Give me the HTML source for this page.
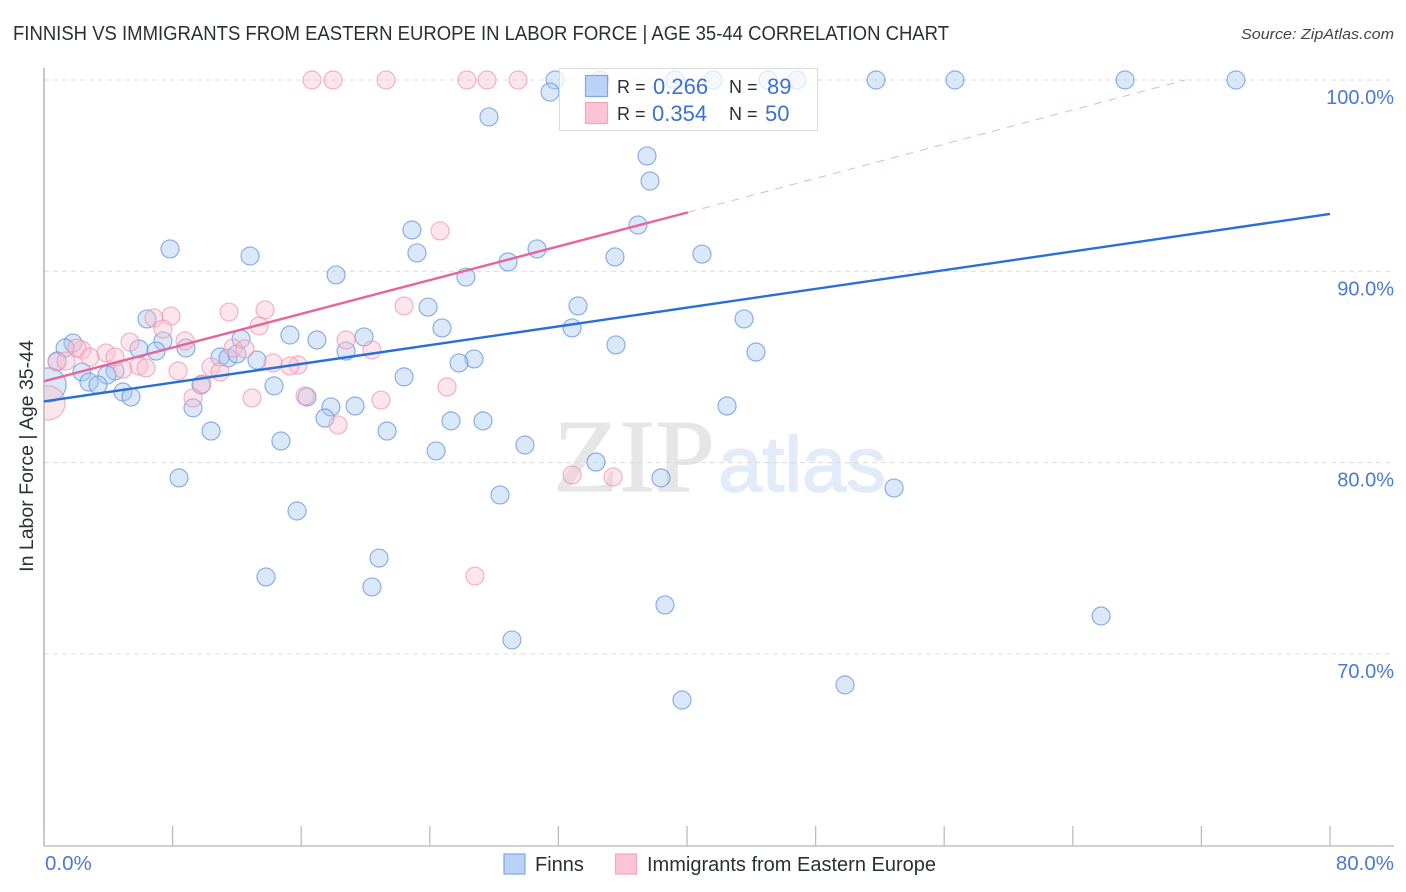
<!DOCTYPE html>
<html lang="en">
<head>
<meta charset="utf-8">
<title>Finnish vs Immigrants from Eastern Europe correlation chart</title>
<style>
html,body{margin:0;padding:0;background:#fff;}
svg{display:block;font-family:"Liberation Sans",sans-serif;}
</style>
</head>
<body>
<svg id="chart" width="1406" height="892" viewBox="0 0 1406 892" xmlns="http://www.w3.org/2000/svg">
  <defs>
    <clipPath id="plot-clip"><rect x="45" y="60" width="1350" height="786"/></clipPath>
  </defs>
  <rect x="0" y="0" width="1406" height="892" fill="#ffffff"/>
  <text x="13" y="40" font-size="20" fill="#2b2f36" textLength="936" lengthAdjust="spacingAndGlyphs">FINNISH VS IMMIGRANTS FROM EASTERN EUROPE IN LABOR FORCE | AGE 35-44 CORRELATION CHART</text>
  <text x="1241" y="39" font-size="15" font-style="italic" fill="#444" textLength="153" lengthAdjust="spacingAndGlyphs">Source: ZipAtlas.com</text>
  <g>
    <text x="553" y="491" font-family="'Liberation Serif',serif" font-size="104" fill="#e6e6e6" stroke="#e6e6e6" stroke-width="1" textLength="162" lengthAdjust="spacingAndGlyphs">ZIP</text>
    <text x="718" y="491" font-size="78" fill="#e2ebf8" stroke="#e2ebf8" stroke-width="1.5" textLength="168" lengthAdjust="spacingAndGlyphs">atlas</text>
  </g>
  <g id="grid"></g>
  <g id="axes"></g>
  <g clip-path="url(#plot-clip)">
    <g id="finns-points"></g>
    <g id="immigrant-points"></g>
  </g>
  <g id="trends"></g>
  <text transform="translate(33,456) rotate(-90)" font-size="19.5" fill="#2b2f36" text-anchor="middle">In Labor Force | Age 35-44</text>

  <g>
    <rect x="559.5" y="68.5" width="258" height="62" fill="#ffffff" fill-opacity="0.72" stroke="#dcdcdc" stroke-width="1"/>
    <rect x="585.5" y="75.5" width="22" height="21" fill="#aecbf5" fill-opacity="0.85" stroke="#7ea8e4" stroke-width="1.2"/>
    <rect x="585.5" y="102.5" width="22" height="21" fill="#fbc3d4" stroke="#f3a6bd" stroke-width="1.2"/>
    <text x="617" y="93" font-size="18" fill="#2b2f36">R =</text>
    <text x="653" y="94" font-size="22" fill="#3b72d0">0.266</text>
    <text x="729" y="93" font-size="18" fill="#2b2f36">N =</text>
    <text x="767" y="94" font-size="22" fill="#3b72d0">89</text>
    <text x="617" y="120" font-size="18" fill="#2b2f36">R =</text>
    <text x="652" y="121" font-size="22" fill="#3b72d0">0.354</text>
    <text x="729" y="120" font-size="18" fill="#2b2f36">N =</text>
    <text x="765" y="121" font-size="22" fill="#3b72d0">50</text>
  </g>

  <g>
    <rect x="504" y="854" width="21" height="20" fill="#b7d3fa" stroke="#7ea8e4" stroke-width="1.2"/>
    <text x="535" y="871" font-size="20" fill="#2b2f36">Finns</text>
    <rect x="615.5" y="854" width="21" height="20" fill="#fcc5d6" stroke="#f3a6bd" stroke-width="1.2"/>
    <text x="647" y="871" font-size="20" fill="#2b2f36" textLength="289" lengthAdjust="spacingAndGlyphs">Immigrants from Eastern Europe</text>
  </g>
</svg>
<script>
const yTickValues = [100, 90, 80, 70];
const yTickLabels = ["100.0%", "90.0%", "80.0%", "70.0%"];
const xTickValues = [0, 8, 16, 24, 32, 40, 48, 56, 64, 72, 80];
const xEndValues = [0, 80];
const xEndLabels = ["0.0%", "80.0%"];

const finnsX = [0.31,31.79,31.48,34.59,39.25,41.62,45.04,46.84,51.76,56.67,67.25,74.15,27.68,37.51,37.70,36.95,22.89,30.67,7.84,12.82,23.20,35.52,40.93,28.87,18.17,26.25,23.89,33.22,6.41,43.55,24.76,32.85,15.30,16.98,19.91,1.80,7.40,12.26,1.31,8.83,5.91,35.58,6.97,18.79,44.29,0.81,10.95,11.45,12.01,13.25,26.75,25.82,2.36,4.42,3.92,22.40,2.80,3.36,14.31,9.77,4.91,5.41,16.36,9.27,17.85,19.35,42.49,17.48,25.32,27.31,10.39,21.34,14.74,29.92,24.39,34.34,38.38,8.40,52.88,28.37,15.74,20.84,13.81,20.40,38.63,65.76,29.11,49.83,39.69];
const finnsY = [84.06,100,99.37,100,100,100,100,100,100,100,100,100,98.07,96.03,94.72,92.42,92.16,91.17,91.17,90.80,90.96,90.75,90.90,90.49,89.81,89.70,88.13,88.19,87.51,87.51,87.04,87.04,86.67,86.41,86.57,86.25,86.36,86.46,85.99,85.99,85.94,86.15,85.83,85.83,85.78,85.31,85.52,85.47,85.68,85.36,85.42,85.21,84.74,84.79,84.58,84.48,84.21,84.06,84.01,84.06,83.69,83.43,83.43,82.86,82.91,82.96,82.96,82.33,82.18,82.18,81.65,81.65,81.13,80.92,80.61,80.03,79.20,79.20,78.67,78.31,77.47,75.01,74.02,73.50,72.56,71.98,70.73,68.38,67.59];
const finnsWeights = [3.6];

const immigrantsX = [0.25,16.67,17.98,21.28,26.31,27.56,29.49,34.59,24.64,11.51,13.75,7.90,6.84,22.40,13.38,7.40,5.35,8.77,18.79,20.40,2.36,2.05,2.86,3.86,4.42,11.76,12.50,0.81,1.37,14.25,15.80,15.30,10.39,10.95,4.91,5.91,6.35,8.34,9.83,25.07,9.27,12.94,16.24,20.96,18.29,32.85,35.40,26.81];
const immigrantsY = [83.12,100,100,100,100,100,100,100,92.11,87.87,87.98,87.66,87.56,88.19,87.14,86.98,86.30,86.36,86.41,85.89,85.89,85.99,85.52,85.73,85.52,85.99,85.94,85.26,85.31,85.21,85.10,85.05,85.00,84.74,84.89,85.05,84.95,84.79,84.11,83.95,83.38,83.38,83.48,83.27,81.97,79.35,79.25,74.07];
const immigrantsWeights = [3.6];

const finnsTrendX = [0, 80];
const finnsTrendY = [83.2, 93.0];
const immigrantsTrendX = [0, 40.06];
const immigrantsTrendY = [84.25, 93.08];
const immigrantsExtendX = [40.06, 71.0];
const immigrantsExtendY = [93.08, 100];

const SVG_NS = "http://www.w3.org/2000/svg";
const xPx = v => 44 + v * 16.075;
const yPx = v => 80 + (100 - v) * 19.13;
const radius = w => 9 * Math.sqrt(w);

function make(tag, attrs, parent) {
  const el = document.createElementNS(SVG_NS, tag);
  for (const k in attrs) el.setAttribute(k, attrs[k]);
  parent.appendChild(el);
  return el;
}

const grid = document.getElementById("grid");
const axes = document.getElementById("axes");

yTickValues.forEach((v, i) => {
  const line = make("line", {x1: 44, x2: 1394, y1: yPx(v), y2: yPx(v), stroke: "#dcdcdc", "stroke-width": 1, "stroke-dasharray": "5 4"}, grid);
  
  
  const label = make("text", {x: 1394, y: yPx(v) + 24, "font-size": 20, fill: "#4a7ad2", "text-anchor": "end"}, axes);
  
  
  label.textContent = yTickLabels[i];
});

const yAxis = make("line", {x1: 44, x2: 44, y1: 68, y2: 846, stroke: "#a8a8a8", "stroke-width": 1.3}, axes);


const xAxis = make("line", {x1: 44, x2: 1394, y1: 846, y2: 846, stroke: "#b4b4b4", "stroke-width": 1.3}, axes);



xTickValues.forEach(v => {
  const tick = make("line", {x1: xPx(v), x2: xPx(v), y1: 826, y2: 846, stroke: "#bdbdbd", "stroke-width": 1.3}, axes);
  
  
});

xEndValues.forEach((v, i) => {
  const label = make("text", {x: i === 0 ? xPx(v) + 1 : 1394, y: 870, "font-size": 20.5, fill: "#4a7ad2", "text-anchor": i === 0 ? "start" : "end"}, axes);
  
  
  label.textContent = xEndLabels[i];
});

function drawPoints(groupId, xs, ys, weights, fill, stroke) {
  const g = document.getElementById(groupId);
  xs.forEach((x, i) => {
    const w = weights[i] === undefined ? 1 : weights[i];
    const c = make("circle", {cx: xPx(x), cy: yPx(ys[i]), r: radius(w), fill: fill, "fill-opacity": 0.4, stroke: stroke, "stroke-opacity": 0.7, "stroke-width": 1.2}, g);
    
    
  });
}
drawPoints("finns-points", finnsX, finnsY, finnsWeights, "#a3c6f2", "#5f92da");
drawPoints("immigrant-points", immigrantsX, immigrantsY, immigrantsWeights, "#f9bdd0", "#ee94b0");

function linePath(xs, ys) {
  return xs.map((x, i) => (i ? "L" : "M") + xPx(x) + " " + yPx(ys[i])).join(" ");
}
const trends = document.getElementById("trends");
const extend = make("path", {d: linePath(immigrantsExtendX, immigrantsExtendY), fill: "none", stroke: "#e8799f", "stroke-width": 1, "stroke-dasharray": "8 7", "stroke-opacity": 0.6}, trends);


const pinkTrend = make("path", {d: linePath(immigrantsTrendX, immigrantsTrendY), fill: "none", stroke: "#e8659a", "stroke-width": 2.4}, trends);


const blueTrend = make("path", {d: linePath(finnsTrendX, finnsTrendY), fill: "none", stroke: "#2a6fd6", "stroke-width": 2.4}, trends);


</script>
</body>
</html>
